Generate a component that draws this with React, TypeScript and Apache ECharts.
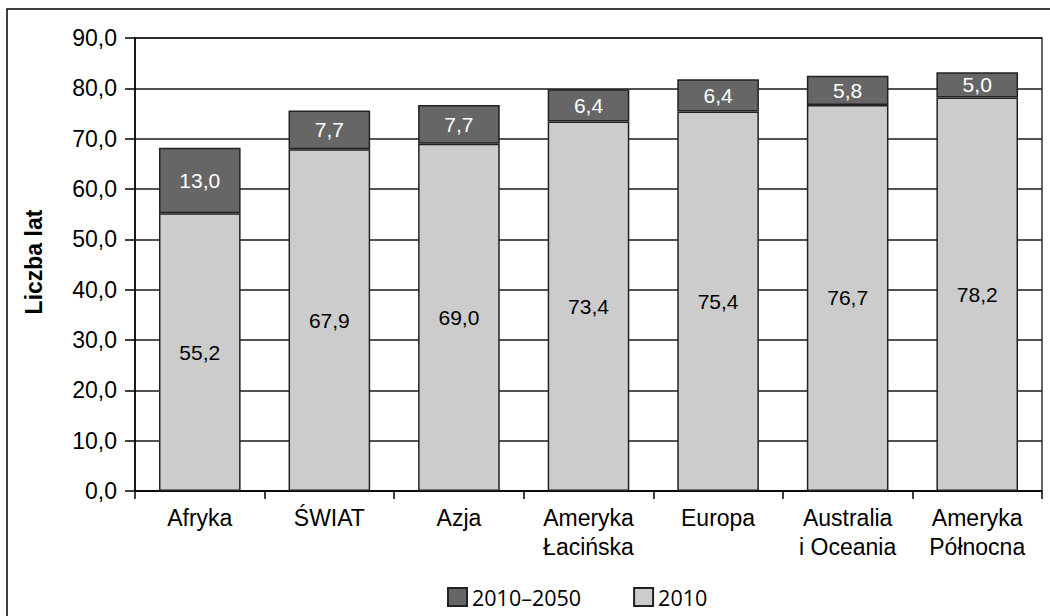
import React, { useEffect, useRef } from "react";
import * as echarts from "echarts";

const categories = [
  "Afryka",
  "ŚWIAT",
  "Azja",
  "Ameryka\nŁacińska",
  "Europa",
  "Australia\ni Oceania",
  "Ameryka\nPółnocna",
];
const values2010 = [55.2, 67.9, 69.0, 73.4, 75.4, 76.7, 78.2];
const increase2010_2050 = [13.0, 7.7, 7.7, 6.4, 6.4, 5.8, 5.0];
const seriesNames = ["2010–2050", "2010"];
const yMin = 0;
const yMax = 90;
const yInterval = 10;
const yTitle = "Liczba lat";

const fmt = (v: number) => v.toFixed(1).replace(".", ",");
const FONT = "Liberation Sans";

export default function App() {
  const ref = useRef<HTMLDivElement>(null);
  useEffect(() => {
    if (!ref.current) return;
    const chart = echarts.init(ref.current, null, { renderer: "svg" });
    chart.setOption({
      animation: false,
      backgroundColor: "#ffffff",
      textStyle: { fontFamily: FONT },
      grid: {
        left: 135,
        right: 8,
        top: 38,
        bottom: 125,
        show: true,
        borderColor: "#333333",
        borderWidth: 1.5,
      },
      legend: {
        data: seriesNames,
        left: 442,
        top: 581,
        itemWidth: 19,
        itemHeight: 18,
        itemGap: 52,
        icon: "rect",
        textStyle: {
          fontFamily: "Open Sans",
          fontSize: 21.5,
          color: "#000",
        },
      },
      xAxis: {
        type: "category",
        data: categories,
        axisLine: { show: true, lineStyle: { color: "#000", width: 1.5 } },
        axisTick: {
          show: true,
          alignWithLabel: false,
          length: 8,
          lineStyle: { color: "#000", width: 1.5 },
        },
        axisLabel: {
          color: "#000",
          fontSize: 23,
          fontFamily: FONT,
          lineHeight: 29,
          margin: 12,
          interval: 0,
        },
      },
      yAxis: {
        type: "value",
        min: yMin,
        max: yMax,
        interval: yInterval,
        axisLine: { show: true, lineStyle: { color: "#000", width: 1.5 } },
        axisTick: {
          show: true,
          length: 10,
          lineStyle: { color: "#000", width: 1.5 },
        },
        axisLabel: {
          color: "#000",
          fontSize: 23,
          fontFamily: FONT,
          margin: 18,
          formatter: (v: number) => fmt(v),
        },
        splitLine: { show: true, lineStyle: { color: "#1a1a1a", width: 1.5 } },
      },
      series: [
        {
          name: seriesNames[1],
          type: "bar",
          stack: "total",
          data: values2010,
          barWidth: "63%",
          itemStyle: { color: "#cccccc", borderColor: "#222222", borderWidth: 1.5 },
          label: {
            show: true,
            position: "inside",
            color: "#000",
            fontSize: 21,
            fontFamily: FONT,
            formatter: (p: any) => fmt(p.value),
          },
        },
        {
          name: seriesNames[0],
          type: "bar",
          stack: "total",
          data: increase2010_2050,
          barWidth: "63%",
          itemStyle: { color: "#666666", borderColor: "#222222", borderWidth: 1.5 },
          label: {
            show: true,
            position: "inside",
            color: "#ffffff",
            fontSize: 21,
            fontFamily: FONT,
            formatter: (p: any) => fmt(p.value),
          },
        },
      ],
      graphic: [
        {
          type: "text",
          x: 34,
          y: 262,
          rotation: Math.PI / 2,
          style: {
            text: yTitle,
            font: "bold 23px 'Liberation Sans'",
            fill: "#000",
            align: "center",
            verticalAlign: "middle",
          },
        },
        {
          type: "rect",
          shape: { x: 7, y: 9, width: 1100, height: 700 },
          style: { fill: "none", stroke: "#000", lineWidth: 1.5 },
          silent: true,
          z: 100,
        },
      ],
    });
    return () => chart.dispose();
  }, []);
  return (
    <div
      ref={ref}
      style={{ position: "fixed", left: 0, top: 0, width: 1050, height: 616 }}
    />
  );
}
